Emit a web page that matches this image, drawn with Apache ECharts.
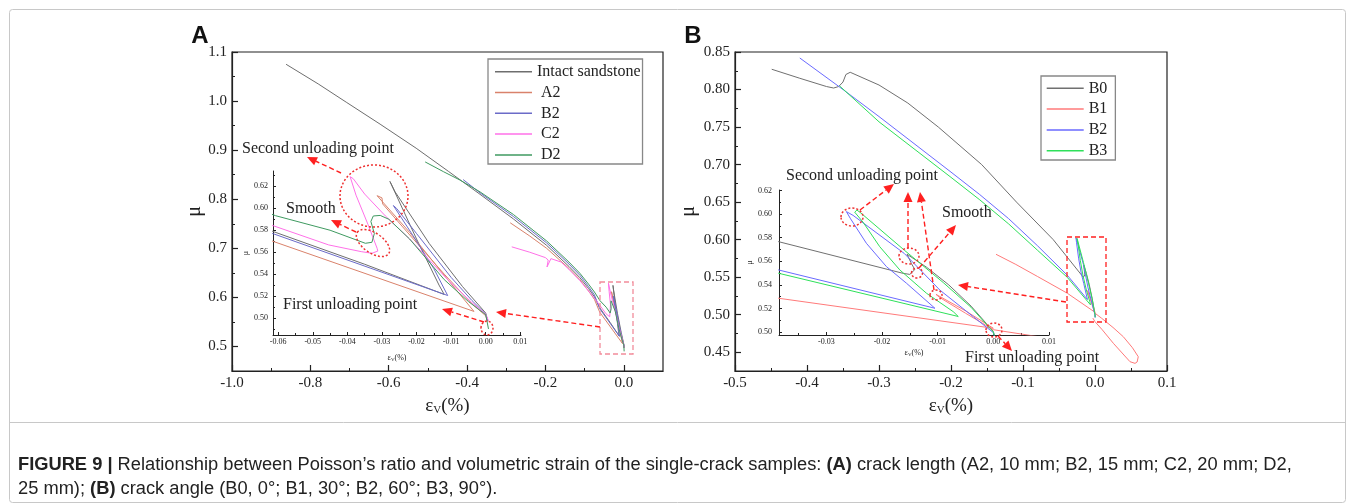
<!DOCTYPE html>
<html lang="en">
<head>
<meta charset="utf-8" />
<title>Figure 9</title>
<script src="https://cdn.jsdelivr.net/npm/echarts@6/dist/echarts.min.js"></script>
<style>
  html, body { margin: 0; padding: 0; background: #fff; }
  #chart { width: 1355px; height: 504px; }
</style>
</head>
<body>
<div id="chart"></div>
<script>
// (A) crack length, points are [volumetric strain εv (%), Poisson's ratio μ]
var intactSandstone = [
  [-0.862, 1.075], [-0.78, 1.035], [-0.707, 0.997], [-0.622, 0.953], [-0.53, 0.904],
  [-0.448, 0.857], [-0.367, 0.810], [-0.282, 0.760], [-0.197, 0.706], [-0.14, 0.663],
  [-0.112, 0.640], [-0.09, 0.618], [-0.075, 0.601],
  [-0.0616, 0.579], [-0.035, 0.549], [-0.012, 0.5215], [-0.0135, 0.530], [-0.020, 0.572],
  [-0.0277, 0.6245], [-0.0262, 0.615], [-0.0163, 0.5678], [-0.0067, 0.5286], [0.0, 0.5045], [0.0006, 0.497]
]
var crackA2 = [
  [-0.29, 0.752], [-0.24, 0.725], [-0.197, 0.700], [-0.14, 0.659], [-0.112, 0.636], [-0.09, 0.613], [-0.075, 0.596],
  [-0.0616, 0.570], [-0.0034, 0.506], [-0.011, 0.535], [-0.022, 0.578], [-0.0314, 0.6115], [-0.0300, 0.6095],
  [-0.0298, 0.604], [-0.024, 0.583], [-0.012, 0.540], [-0.004, 0.513], [0.0, 0.502], [0.0005, 0.497]
]
var crackB2 = [
  [-0.41, 0.840], [-0.367, 0.813], [-0.282, 0.765], [-0.197, 0.711], [-0.14, 0.668], [-0.112, 0.645],
  [-0.09, 0.622], [-0.075, 0.605],
  [-0.0616, 0.577], [-0.011, 0.5205], [-0.0106, 0.519], [-0.015, 0.545], [-0.021, 0.575], [-0.0267, 0.6025],
  [-0.0258, 0.600], [-0.020, 0.577], [-0.010, 0.537], [-0.004, 0.516], [0.0, 0.5035], [0.0005, 0.498]
]
var crackC2 = [
  [-0.286, 0.703], [-0.24, 0.692], [-0.20, 0.681], [-0.193, 0.676], [-0.196, 0.662], [-0.186, 0.679],
  [-0.16, 0.672], [-0.14, 0.657], [-0.112, 0.634], [-0.09, 0.613], [-0.075, 0.598],
  [-0.0616, 0.5843], [-0.0454, 0.5666], [-0.036, 0.5605], [-0.0329, 0.559], [-0.0312, 0.561], [-0.0314, 0.5635],
  [-0.034, 0.585], [-0.0375, 0.612], [-0.0392, 0.6288], [-0.0383, 0.627], [-0.035, 0.613], [-0.029, 0.593],
  [-0.022, 0.572], [-0.011, 0.535], [-0.004, 0.514], [0.0, 0.5035], [0.0008, 0.4975]
]
var crackD2 = [
  [-0.507, 0.876], [-0.46, 0.856], [-0.418, 0.839], [-0.367, 0.815], [-0.282, 0.769], [-0.197, 0.715],
  [-0.14, 0.672], [-0.112, 0.649], [-0.09, 0.627], [-0.075, 0.611],
  [-0.0608, 0.5933], [-0.045, 0.580], [-0.0348, 0.5681], [-0.0329, 0.569], [-0.0322, 0.577], [-0.0332, 0.588],
  [-0.0325, 0.593], [-0.0305, 0.5935], [-0.028, 0.590], [-0.022, 0.572], [-0.012, 0.535], [-0.005, 0.515],
  [0.0, 0.503], [0.0008, 0.49]
]

// (B) crack angle
var angleB0 = [
  [-0.449, 0.827], [-0.41, 0.815], [-0.373, 0.804], [-0.363, 0.802], [-0.356, 0.804], [-0.350, 0.810],
  [-0.346, 0.820], [-0.340, 0.823], [-0.30, 0.806], [-0.26, 0.782], [-0.2176, 0.750], [-0.1574, 0.700],
  [-0.109, 0.650], [-0.058, 0.600], [-0.0386, 0.5767], [-0.0162, 0.5498], [-0.015, 0.5489], [-0.0141, 0.553],
  [-0.0147, 0.558], [-0.0155, 0.566], [-0.012, 0.555], [-0.008, 0.540], [-0.004, 0.522], [0.0, 0.5005], [0.0002, 0.497]
]
var angleB1 = [
  [-0.1375, 0.5805], [-0.11, 0.567], [-0.08, 0.551], [-0.0386, 0.5287], [0.0, 0.5032], [-0.005, 0.518],
  [-0.0103, 0.532], [-0.0097, 0.5295], [-0.005, 0.516], [0.0, 0.502], [0.0093, 0.4952], [0.025, 0.483],
  [0.0393, 0.4707], [0.052, 0.456], [0.0601, 0.444], [0.0585, 0.437], [0.0556, 0.4352], [0.0486, 0.4374],
  [0.0255, 0.4619], [0.01, 0.480], [0.0, 0.4907], [-0.003, 0.4955]
]
var angleB2 = [
  [-0.41, 0.842], [-0.35, 0.800], [-0.30, 0.764], [-0.25, 0.727], [-0.20, 0.690], [-0.16, 0.660],
  [-0.12, 0.628], [-0.08, 0.592], [-0.0386, 0.5527],
  [-0.0105, 0.5202], [-0.0108, 0.5215], [-0.0156, 0.5414], [-0.0192, 0.5555], [-0.0228, 0.5753],
  [-0.0257, 0.5965], [-0.0264, 0.6022], [-0.0252, 0.599], [-0.016, 0.5667], [-0.0096, 0.5356],
  [-0.0036, 0.513], [0.0, 0.4995], [0.0002, 0.496]
]
var angleB3 = [
  [-0.355, 0.805], [-0.30, 0.757], [-0.25, 0.720], [-0.20, 0.683], [-0.16, 0.653], [-0.12, 0.621],
  [-0.08, 0.586], [-0.0386, 0.5499],
  [-0.0063, 0.5132], [-0.0072, 0.5173], [-0.0120, 0.5329], [-0.0168, 0.5527], [-0.0204, 0.5724],
  [-0.0234, 0.5932], [-0.0249, 0.6017], [-0.0245, 0.6035], [-0.0238, 0.601], [-0.016, 0.5695],
  [-0.009, 0.542], [-0.004, 0.521], [0.0, 0.500], [0.0002, 0.4965]
]

// tick positions
var aXTicks = [-1.0, -0.8, -0.6, -0.4, -0.2, 0.0]
var aXMinor = [-0.9, -0.7, -0.5, -0.3, -0.1]
var aYTicks = [0.5, 0.6, 0.7, 0.8, 0.9, 1.0, 1.1]
var aYMinor = [0.55, 0.65, 0.75, 0.85, 0.95, 1.05]
var aInXTicks = [-0.06, -0.05, -0.04, -0.03, -0.02, -0.01, 0.0, 0.01]
var aInXMinor = [-0.055, -0.045, -0.035, -0.025, -0.015, -0.005, 0.005]
var aInYTicks = [0.50, 0.52, 0.54, 0.56, 0.58, 0.60, 0.62]
var aInYMinor = [0.49, 0.51, 0.53, 0.55, 0.57, 0.59, 0.61, 0.63]
var bXTicks = [-0.5, -0.4, -0.3, -0.2, -0.1, 0.0, 0.1]
var bXMinor = [-0.45, -0.35, -0.25, -0.15, -0.05, 0.05]
var bYTicks = [0.45, 0.50, 0.55, 0.60, 0.65, 0.70, 0.75, 0.80, 0.85]
var bYMinor = [0.475, 0.525, 0.575, 0.625, 0.675, 0.725, 0.775, 0.825]
var bInXTicks = [-0.03, -0.02, -0.01, 0.0, 0.01]
var bInXMinor = [-0.035, -0.025, -0.015, -0.005, 0.005]
var bInYTicks = [0.50, 0.52, 0.54, 0.56, 0.58, 0.60, 0.62]
var bInYMinor = [0.51, 0.53, 0.55, 0.57, 0.59, 0.61]

var SERIF = '"Liberation Serif", "Times New Roman", serif'
var SANS = '"Liberation Sans", Arial, sans-serif'
var INK = '#222'
var RED = '#ff2020'

function fixed(n) { return function (v) { return v.toFixed(n) } }

function axis(dir, grid, min, max, ticks, opt) {
  var a = {
    type: 'value', gridIndex: grid, min: min, max: max,
    position: dir === 'x' ? 'bottom' : 'left',
    axisLine: { show: true, onZero: false, lineStyle: { color: INK, width: opt.lw } },
    axisTick: { show: true, inside: true, length: opt.tick, customValues: ticks, lineStyle: { color: INK, width: opt.lw } },
    axisLabel: { show: true, customValues: ticks, formatter: fixed(opt.dec), margin: opt.margin,
      fontSize: opt.fs, fontFamily: SERIF, color: INK },
    splitLine: { show: false },
    name: opt.name, nameLocation: 'middle', nameGap: opt.nameGap,
    nameTextStyle: { fontSize: opt.nfs, fontFamily: SERIF, color: INK,
      rich: { s: { fontSize: Math.round(opt.nfs * 0.6), fontFamily: SERIF, color: INK, padding: [Math.round(opt.nfs * 0.45), 0, 0, 0] } } }
  }
  return a
}
function minorAxis(dir, grid, min, max, ticks, len) {
  return {
    type: 'value', gridIndex: grid, min: min, max: max,
    position: dir === 'x' ? 'bottom' : 'left',
    axisLine: { show: false, onZero: false },
    axisTick: { show: true, inside: true, length: len, customValues: ticks, lineStyle: { color: INK, width: 1 } },
    axisLabel: { show: false }, splitLine: { show: false }
  }
}

var mainOpt = { lw: 1.2, tick: 6, dec: 1, margin: 5, fs: 15 }
var xName = 'ε{s|V}(%)'

var xAxes = [
  axis('x', 0, -1.0, 0.1, aXTicks, Object.assign({}, mainOpt, { name: xName, nameGap: 25, nfs: 19 })),
  axis('x', 1, -0.0615, 0.0102, aInXTicks, { lw: 1, tick: 3, dec: 2, margin: 3, fs: 8, name: xName, nameGap: 18, nfs: 8 }),
  axis('x', 2, -0.5, 0.1, bXTicks, Object.assign({}, mainOpt, { name: xName, nameGap: 25, nfs: 19 })),
  axis('x', 3, -0.0385, 0.0100, bInXTicks, { lw: 1, tick: 3, dec: 2, margin: 3, fs: 8, name: xName, nameGap: 13, nfs: 8 }),
  minorAxis('x', 0, -1.0, 0.1, aXMinor, 3),
  minorAxis('x', 1, -0.0615, 0.0102, aInXMinor, 2),
  minorAxis('x', 2, -0.5, 0.1, bXMinor, 3),
  minorAxis('x', 3, -0.0385, 0.0100, bInXMinor, 2)
]
var yAxes = [
  axis('y', 0, 0.45, 1.1, aYTicks, Object.assign({}, mainOpt, { name: 'μ', nameGap: 24, nfs: 20 })),
  axis('y', 1, 0.4845, 0.634, aInYTicks, { lw: 1, tick: 3, dec: 2, margin: 5, fs: 8, name: 'μ', nameGap: 23, nfs: 8 }),
  axis('y', 2, 0.425, 0.85, bYTicks, Object.assign({}, mainOpt, { dec: 2, name: 'μ', nameGap: 36, nfs: 20 })),
  axis('y', 3, 0.4975, 0.6205, bInYTicks, { lw: 1, tick: 3, dec: 2, margin: 7, fs: 8, name: 'μ', nameGap: 21, nfs: 8 }),
  minorAxis('y', 0, 0.45, 1.1, aYMinor, 3),
  minorAxis('y', 1, 0.4845, 0.634, aInYMinor, 2),
  minorAxis('y', 2, 0.425, 0.85, bYMinor, 3),
  minorAxis('y', 3, 0.4975, 0.6205, bInYMinor, 2)
]

function curve(name, data, color, idx) {
  return {
    type: 'line', name: name, data: data, xAxisIndex: idx, yAxisIndex: idx,
    symbol: 'none', showSymbol: false, clip: true, silent: true,
    lineStyle: { color: color, width: 1 }, itemStyle: { color: color }, z: 3
  }
}

var seriesA = [
  ['Intact sandstone', intactSandstone, '#6e6e6e'],
  [' A2', crackA2, '#d9826b'],
  [' B2', crackB2, '#6b6bc8'],
  [' C2', crackC2, '#ff70e8'],
  [' D2', crackD2, '#3f9a60']
]
var seriesB = [
  ['B0', angleB0, '#707070'],
  ['B1', angleB1, '#ff7a7a'],
  ['B2', angleB2, '#6a6aff'],
  ['B3', angleB3, '#2ee05a']
]
var series = []
seriesA.forEach(function (s) { series.push(curve(s[0], s[1], s[2], 0)) })
seriesA.forEach(function (s) { series.push(curve(s[0], s[1], s[2], 1)) })
seriesB.forEach(function (s) { series.push(curve(s[0], s[1], s[2], 2)) })
seriesB.forEach(function (s) { series.push(curve(s[0], s[1], s[2], 3)) })

// annotations
function arrow(x1, y1, x2, y2) {
  var dx = x2 - x1, dy = y2 - y1, len = Math.sqrt(dx * dx + dy * dy)
  var ux = dx / len, uy = dy / len, h = 10, w = 4.5
  var bx = x2 - ux * h, by = y2 - uy * h
  return [
    { type: 'line', z: 100, shape: { x1: x1, y1: y1, x2: bx, y2: by },
      style: { stroke: RED, lineWidth: 1.4, lineDash: [5, 3] } },
    { type: 'polygon', z: 100, shape: { points: [[x2, y2], [bx - uy * w, by + ux * w], [bx + uy * w, by - ux * w]] },
      style: { fill: RED } }
  ]
}
function ring(cx, cy, rx, ry, rot) {
  return { type: 'ellipse', z: 100, x: cx, y: cy, rotation: rot || 0, shape: { cx: 0, cy: 0, rx: rx, ry: ry },
    style: { fill: 'none', stroke: '#ee3030', lineWidth: 1.5, lineDash: [2, 2] } }
}
function note(text, x, y) {
  return { type: 'text', z: 100, x: x, y: y,
    style: { text: text, fontSize: 16, fontFamily: SERIF, fill: INK, verticalAlign: 'middle' } }
}
function box(x, y, w, h, color) {
  return { type: 'rect', z: 100, shape: { x: x, y: y, width: w, height: h },
    style: { fill: 'none', stroke: color, lineWidth: 1.3, lineDash: [5, 3] } }
}

var captionBold = { fontSize: 18.3, fontFamily: SANS, fontWeight: 'bold', fill: INK }
var graphics = [
  { type: 'rect', z: 0, shape: { x: 9.5, y: 9.5, width: 1336, height: 493, r: 3 },
    style: { fill: 'none', stroke: '#c8c8c8', lineWidth: 1 } },
  { type: 'line', z: 0, shape: { x1: 9.5, y1: 422.5, x2: 1345.5, y2: 422.5 },
    style: { stroke: '#c8c8c8', lineWidth: 1 } },
  { type: 'text', z: 100, x: 200, y: 36, style: { text: 'A', fontSize: 24, fontWeight: 'bold', fontFamily: SANS,
    fill: '#111', align: 'center', verticalAlign: 'middle' } },
  { type: 'text', z: 100, x: 693, y: 36, style: { text: 'B', fontSize: 24, fontWeight: 'bold', fontFamily: SANS,
    fill: '#111', align: 'center', verticalAlign: 'middle' } },

  note('Second unloading point', 242, 149),
  note('Smooth', 286, 209),
  note('First unloading point', 283, 305),
  ring(374, 196, 34, 31, 0),
  ring(373, 243, 19, 10, -0.6),
  ring(487, 328, 6, 7, 0),
  box(600, 282, 33, 72, '#f28c9a'),

  note('Second unloading point', 786, 176),
  note('Smooth', 942, 213),
  note('First unloading point', 965, 358),
  ring(852, 217, 11, 9, 0),
  ring(909, 256, 10, 8, 0),
  ring(917, 273, 5.5, 5, 0),
  ring(936, 295, 6, 5, 0),
  ring(994, 330, 8, 7, 0),
  box(1067, 237, 39, 85, RED),

  { type: 'text', z: 100, x: 18, y: 465, style: {
    text: '{b|FIGURE 9 |} Relationship between Poisson’s ratio and volumetric strain of the single-crack samples: {b|(A)} crack length (A2, 10 mm; B2, 15 mm; C2, 20 mm; D2,',
    fontSize: 18.3, fontFamily: SANS, fill: INK, verticalAlign: 'middle', rich: { b: captionBold } } },
  { type: 'text', z: 100, x: 18, y: 489, style: {
    text: '25 mm); {b|(B)} crack angle (B0, 0°; B1, 30°; B2, 60°; B3, 90°).',
    fontSize: 18.3, fontFamily: SANS, fill: INK, verticalAlign: 'middle', rich: { b: captionBold } } }
]
graphics = graphics
  .concat(arrow(341, 173, 307, 157))
  .concat(arrow(356, 232, 331, 220))
  .concat(arrow(484, 322, 442, 309))
  .concat(arrow(600, 327, 496, 312))
  .concat(arrow(860, 210, 894, 184))
  .concat(arrow(908, 248, 908, 192))
  .concat(arrow(934, 290, 920, 192))
  .concat(arrow(919, 268, 956, 225))
  .concat(arrow(998, 336, 1012, 351))
  .concat(arrow(1066, 302, 958, 285))

var legendText = { fontSize: 16, fontFamily: SERIF, color: INK }
var chart = echarts.init(document.getElementById('chart'), null, { renderer: 'canvas' })
chart.setOption({
  animation: false,
  backgroundColor: '#fff',
  grid: [
    { left: 232, top: 52, width: 431, height: 319, show: true, borderColor: INK, borderWidth: 1.2 },
    { left: 273, top: 171, width: 248, height: 164 },
    { left: 735, top: 52, width: 432, height: 319, show: true, borderColor: INK, borderWidth: 1.2 },
    { left: 779, top: 190, width: 270, height: 145 }
  ],
  legend: [
    { data: seriesA.map(function (s) { return s[0] }), orient: 'vertical', left: 488, top: 59,
      padding: [4.7, 2, 1.1, 7], itemGap: 4.8, itemWidth: 37, itemHeight: 1.5, icon: 'rect',
      borderColor: '#888', borderWidth: 1.3, textStyle: legendText, selectedMode: false },
    { data: seriesB.map(function (s) { return s[0] }), orient: 'vertical', left: 1041, top: 76,
      padding: [4.3, 8, 1.3, 5.7], itemGap: 4.8, itemWidth: 37, itemHeight: 1.5, icon: 'rect',
      borderColor: '#888', borderWidth: 1.3, textStyle: legendText, selectedMode: false }
  ],
  xAxis: xAxes,
  yAxis: yAxes,
  series: series,
  graphic: graphics
})
</script>
</body>
</html>
